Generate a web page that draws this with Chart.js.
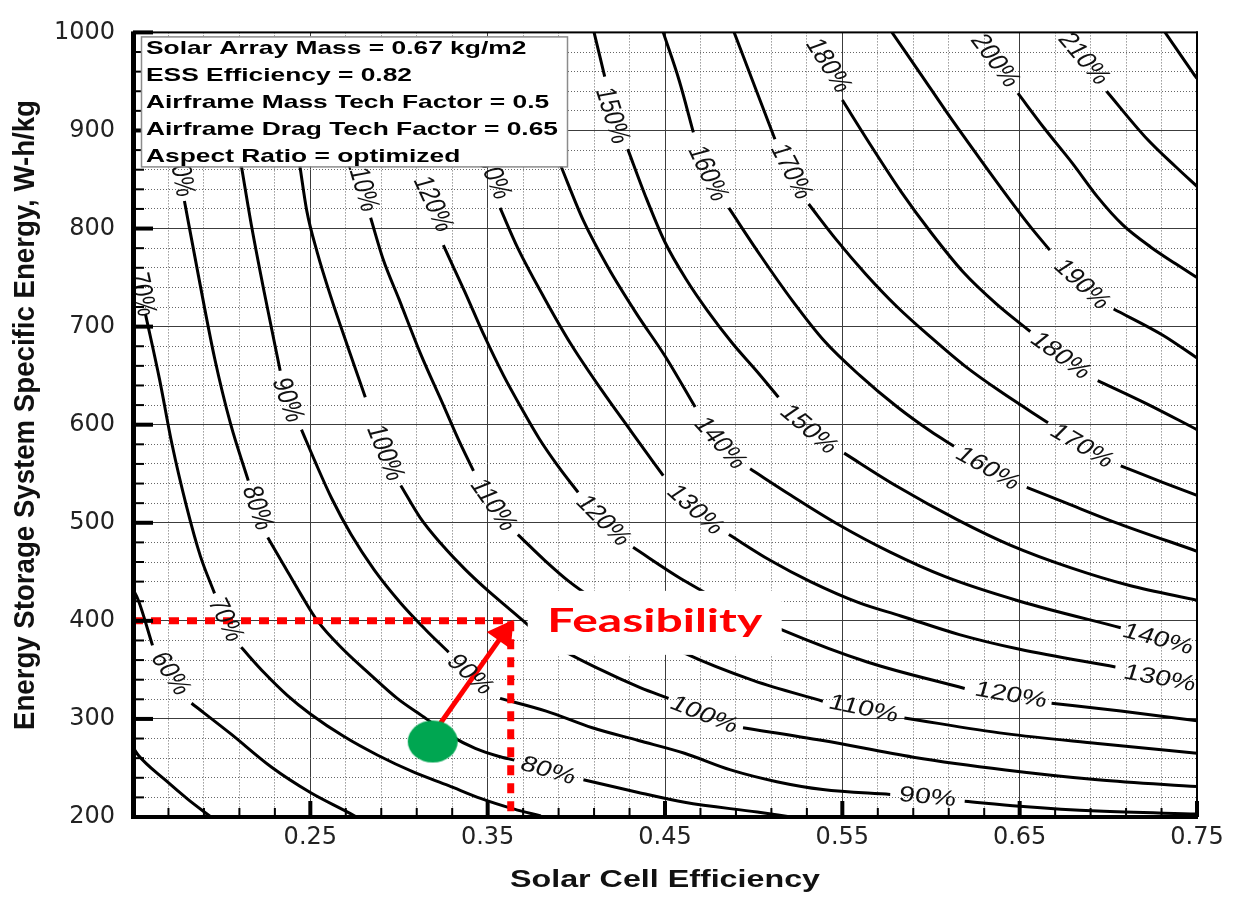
<!DOCTYPE html>
<html>
<head>
<meta charset="utf-8">
<script src="https://cdn.jsdelivr.net/npm/chart.js@4.4.1/dist/chart.umd.min.js"></script>
<style>
  html, body { margin: 0; padding: 0; background: #fff; }
  #wrap { width: 1236px; height: 897px; position: relative; }
</style>
</head>
<body>
<div id="wrap"><canvas id="chart"></canvas></div>
<script>
// axis ticks
const xTicks = [0.25, 0.35, 0.45, 0.55, 0.65, 0.75];
const yTicks = [200, 300, 400, 500, 600, 700, 800, 900, 1000];

// contour lines, [solar cell efficiency, specific energy]; null = gap left for a label
const c50 = [[0.150,271],[0.153,263],[0.168,238],[0.181,218],[0.194,200]];
const c60 = [[0.150,432],[0.153,421],[0.161,375],null,[0.183,316],[0.205,285],[0.228,251],[0.250,225],[0.271,205],[0.276,200]];
const c70 = [[0.157,713],[0.165,646],[0.172,580],[0.180,518],[0.188,466],[0.196,428],null,[0.211,373],[0.224,347],[0.237,324],[0.250,305],[0.269,282],[0.288,263],[0.308,246],[0.328,232],[0.346,219],[0.365,208],[0.380,201]];
const c80 = [[0.179,828],[0.187,751],[0.196,668],[0.205,601],[0.215,543],null,[0.226,485],[0.235,457],[0.245,426],[0.254,400],[0.269,370],[0.284,345],[0.299,321],[0.314,302],[0.329,283],[0.343,270],[0.356,262],[0.365,258],null,[0.404,238],[0.435,225],[0.461,215],[0.502,205],[0.521,200]];
const c90 = [[0.211,865],[0.217,801],[0.224,735],[0.233,655],null,[0.245,595],[0.253,561],[0.262,525],[0.273,488],[0.286,452],[0.301,418],[0.315,391],[0.328,368],null,[0.357,321],[0.383,308],[0.409,291],[0.435,278],[0.461,265],[0.487,248],[0.513,236],[0.539,228],[0.577,223],null,[0.619,216],[0.650,211],[0.694,206],[0.750,203]];
const c100 = [[0.244,865],[0.248,818],[0.254,775],[0.262,728],[0.271,680],[0.281,628],null,[0.301,538],[0.312,505],[0.324,478],[0.337,453],[0.350,431],[0.361,414],[0.372,397],[0.386,377],[0.414,350],[0.436,332],[0.452,321],null,[0.494,291],[0.539,278],[0.590,261],[0.642,248],[0.694,238],[0.750,231]];
const c110 = [[0.284,811],[0.291,769],[0.300,728],[0.312,673],[0.325,620],[0.334,583],[0.342,553],null,[0.367,488],[0.382,462],[0.396,440],[0.414,417],[0.436,391],[0.461,367],[0.500,339],[0.539,318],null,[0.585,301],[0.642,285],[0.694,275],[0.750,265]];
const c120 = [[0.325,783],[0.337,736],[0.348,691],[0.359,650],[0.369,617],[0.379,586],[0.390,557],[0.401,531],null,[0.432,475],[0.459,443],[0.487,415],[0.517,390],[0.564,358],[0.619,331],null,[0.668,316],[0.707,308],[0.750,298]];
const c130 = [[0.357,821],[0.367,780],[0.382,729],[0.397,682],[0.414,636],[0.431,593],[0.449,548],null,[0.486,488],[0.509,462],[0.532,440],[0.560,418],[0.583,405],[0.616,386],[0.650,371],[0.704,353]];
const c140 = [[0.391,865],[0.404,808],[0.418,760],[0.434,713],[0.450,670],[0.467,618],null,[0.498,555],[0.521,528],[0.547,499],[0.577,470],[0.608,445],[0.650,420],[0.707,393]];
const c150 = [[0.410,1000],[0.416,955],null,[0.429,881],[0.439,833],[0.450,786],[0.462,748],[0.474,716],[0.488,683],[0.502,654],[0.514,628],null,[0.551,571],[0.581,537],[0.615,503],[0.645,477],[0.679,454],[0.712,436],[0.750,421]];
const c160 = [[0.449,1000],[0.458,951],[0.466,898],null,[0.486,821],[0.504,772],[0.522,726],[0.540,685],[0.560,650],[0.581,618],[0.600,593],[0.613,578],null,[0.654,536],[0.675,521],[0.703,501],[0.750,471]];
const c170 = [[0.489,1000],[0.501,943],[0.512,891],null,[0.531,825],[0.546,790],[0.563,754],[0.581,720],[0.600,689],[0.619,660],[0.639,634],[0.666,602],null,[0.707,558],[0.731,541],[0.750,528]];
const c180 = [[0.550,931],[0.566,885],[0.583,838],[0.600,796],[0.618,756],[0.637,723],[0.656,695],null,[0.694,645],[0.722,621],[0.750,595]];
const c190 = [[0.578,1000],[0.594,958],[0.611,913],[0.628,870],[0.645,828],[0.656,802],[0.667,778],null,[0.703,718],[0.731,691],[0.750,668]];
const c200 = [[0.649,938],[0.664,902],[0.680,866],[0.694,832],[0.708,804],[0.724,781],[0.738,764],[0.750,750]];
const c210 = [[0.699,940],[0.722,891],[0.738,863],[0.750,843]];
const c220 = [[0.732,1000],[0.748,958],[0.750,953]];

// inline labels: [level %, x, y]
const contourLabels = [
  [60,0.171,346],
  [70,0.155,733],[70,0.202,401],
  [80,0.177,855],[80,0.220,515],[80,0.384,247],
  [90,0.237,625],[90,0.340,345],[90,0.598,220],
  [100,0.292,571],[100,0.472,304],
  [110,0.279,845],[110,0.353,518],[110,0.562,310],
  [120,0.319,825],[120,0.415,502],[120,0.645,324],
  [130,0.352,858],[130,0.467,513],[130,0.729,341],
  [140,0.481,581],[140,0.728,381],
  [150,0.420,915],[150,0.531,595],
  [160,0.474,856],[160,0.632,555],
  [170,0.521,858],[170,0.685,578],
  [180,0.542,966],[180,0.673,670],
  [190,0.685,743],
  [200,0.636,971],
  [210,0.686,973]
];

// current design point and the feasibility target
const designPoint = [0.319, 277];
const feasPoint = [0.363, 400];
const arrowFrom = [0.3235, 296];
const arrowTo = [0.359, 387];

const infoLines = [
  'Solar Array Mass = 0.67 kg/m2',
  'ESS Efficiency = 0.82',
  'Airframe Mass Tech Factor = 0.5',
  'Airframe Drag Tech Factor = 0.65',
  'Aspect Ratio = optimized'
];
const xTitle = 'Solar Cell Efficiency';
const yTitle = 'Energy Storage System Specific Energy, W-h/kg';

// minor grid every 0.02 / 20
const xMinor = [];
for (let k = 1; k < 30; k++) if (k % 5) xMinor.push(Math.round((0.15 + 0.02 * k) * 100) / 100);
const yMinor = [];
for (let k = 1; k < 40; k++) if (k % 5) yMinor.push(200 + 20 * k);

const levels = {50:c50,60:c60,70:c70,80:c80,90:c90,100:c100,110:c110,120:c120,130:c130,
  140:c140,150:c150,160:c160,170:c170,180:c180,190:c190,200:c200,210:c210,220:c220};

function toXY(pts) {
  let lastX = null;
  return pts.map(p => {
    if (!p) return {x: lastX, y: null};
    lastX = p[0];
    return {x: p[0], y: p[1]};
  });
}

// text drawn as if the picture were stretched sideways by sx
function stretchText(ctx, txt, x, y, deg, sx) {
  const a = deg * Math.PI / 180;
  ctx.save();
  ctx.translate(x, y);
  ctx.scale(sx, 1);
  ctx.rotate(Math.atan2(Math.sin(a), Math.cos(a) / sx));
  ctx.fillText(txt, 0, 0);
  ctx.restore();
}

function fitText(ctx, txt, cx, cy, width) {
  const w = ctx.measureText(txt).width;
  ctx.save();
  ctx.translate(cx, cy);
  ctx.scale(width / w, 1);
  ctx.textAlign = 'center';
  ctx.textBaseline = 'middle';
  ctx.fillText(txt, 0, 0);
  ctx.restore();
}

// label direction from the two nearest points of its own contour
function labelAngle(pts, xs, ys, px, py) {
  const pp = pts.filter(Boolean).map(p => [xs.getPixelForValue(p[0]), ys.getPixelForValue(p[1])]);
  pp.sort((a, b) => Math.hypot(a[0] - px, a[1] - py) - Math.hypot(b[0] - px, b[1] - py));
  let a = pp[0], b = pp[1];
  if (a[0] > b[0]) [a, b] = [b, a];
  return Math.atan2(b[1] - a[1], b[0] - a[0]) * 180 / Math.PI;
}

// slightly wide green marker, like the source
const dot = document.createElement('canvas');
dot.width = 52; dot.height = 44;
(function () {
  const g = dot.getContext('2d');
  g.fillStyle = '#00a651';
  g.beginPath();
  g.ellipse(26, 22, 25, 21, 0, 0, Math.PI * 2);
  g.fill();
})();

const overlay = {
  id: 'overlay',
  afterDatasetsDraw(chart) {
    const {ctx, chartArea: ca, scales: {x, y}} = chart;
    const L = ca.left, R = ca.right, T = ca.top, B = ca.bottom;

    // contour labels
    ctx.save();
    ctx.beginPath(); ctx.rect(L, T, R - L, B - T); ctx.clip();
    ctx.fillStyle = '#111';
    ctx.font = '22px "Liberation Sans", Arial, sans-serif';
    ctx.textAlign = 'center';
    ctx.textBaseline = 'middle';
    contourLabels.forEach(([lvl, lx, ly]) => {
      const px = x.getPixelForValue(lx), py = y.getPixelForValue(ly);
      stretchText(ctx, lvl + '%', px, py, labelAngle(levels[lvl], x, y, px, py), 1.3);
    });
    ctx.restore();

    // feasibility caption
    const fx = x.getPixelForValue(feasPoint[0]), fy = y.getPixelForValue(feasPoint[1]);
    ctx.fillStyle = '#fff';
    ctx.fillRect(fx + 17, fy - 30, 254, 64);
    ctx.fillStyle = '#ff0000';
    ctx.font = 'bold 33px Lato, "Open Sans", sans-serif';
    fitText(ctx, 'Feasibility', fx + 144, fy + 1, 215);

    // frame with inward ticks
    ctx.fillStyle = '#000';
    ctx.fillRect(L - 2, T - 1, 5, B - T + 3);
    ctx.fillRect(L - 2, B - 2, R - L + 3, 4);
    ctx.fillRect(L, T - 1, R - L + 1, 2);
    ctx.fillRect(R - 1, T - 1, 2, B - T + 2);
    yTicks.forEach(v => { const py = y.getPixelForValue(v); ctx.fillRect(L, py - 2, 20, 4); });
    yMinor.forEach(v => { const py = y.getPixelForValue(v); ctx.fillRect(L, py - 1, 11, 2); });
    xTicks.forEach(v => { const px = x.getPixelForValue(v); ctx.fillRect(px - 2, B - 16, 4, 16); });
    xMinor.forEach(v => { const px = x.getPixelForValue(v); ctx.fillRect(px - 1, B - 9, 2, 9); });

    // parameter box
    const bx = L + 8, by = T + 4, bw = 426, bh = 130;
    ctx.fillStyle = '#fff';
    ctx.fillRect(bx, by, bw, bh);
    ctx.strokeStyle = '#8c8c8c';
    ctx.lineWidth = 1.5;
    ctx.strokeRect(bx + 0.5, by + 0.5, bw, bh);
    ctx.fillStyle = '#000';
    ctx.font = 'bold 19px "Liberation Sans", Arial, sans-serif';
    ctx.textAlign = 'left';
    ctx.textBaseline = 'alphabetic';
    const sx = 412 / ctx.measureText(infoLines[3]).width;
    infoLines.forEach((t, i) => {
      ctx.save();
      ctx.translate(bx + 5, by + 18 + i * 27);
      ctx.scale(sx, 1);
      ctx.fillText(t, 0, 0);
      ctx.restore();
    });
  },
  afterDraw(chart) {
    const {ctx, chartArea: ca} = chart;
    ctx.save();
    ctx.fillStyle = '#111';
    ctx.font = 'bold 24px "Liberation Sans", Arial, sans-serif';
    fitText(ctx, xTitle, (ca.left + ca.right) / 2, 880, 310);
    ctx.translate(26, 415);
    ctx.rotate(-Math.PI / 2);
    ctx.font = 'bold 23px "Liberation Sans", Arial, sans-serif';
    const w = ctx.measureText(yTitle).width;
    ctx.scale(630 / w, 1.3);
    ctx.textAlign = 'center';
    ctx.textBaseline = 'middle';
    ctx.fillText(yTitle, 0, 0);
    ctx.restore();
  }
};

const contourSets = Object.keys(levels).map(k => ({
  label: k + '%',
  data: toXY(levels[k]),
  borderColor: '#000',
  borderWidth: 3,
  pointRadius: 0,
  cubicInterpolationMode: 'monotone',
  order: 2
}));

const tickFont = {family: '"DejaVu Sans", sans-serif', size: 24};

new Chart(document.getElementById('chart'), {
  type: 'line',
  data: {
    datasets: [
      {
        label: 'design point',
        data: [{x: designPoint[0], y: designPoint[1]}],
        showLine: false,
        pointStyle: dot,
        pointRadius: 22,
        order: 0
      },
      {
        label: 'arrow',
        data: toXY([arrowFrom, arrowTo]),
        borderColor: '#ff0000',
        borderWidth: 5,
        tension: 0,
        pointRadius: [0, 12],
        pointStyle: 'triangle',
        pointBackgroundColor: '#ff0000',
        pointBorderColor: '#ff0000',
        pointRotation: (c) => {
          const sx = c.chart.scales.x, sy = c.chart.scales.y;
          const dx = sx.getPixelForValue(arrowTo[0]) - sx.getPixelForValue(arrowFrom[0]);
          const dy = sy.getPixelForValue(arrowTo[1]) - sy.getPixelForValue(arrowFrom[1]);
          return Math.atan2(dx, -dy) * 180 / Math.PI;
        },
        order: 0
      },
      {
        label: 'feasibility',
        data: toXY([[0.15, feasPoint[1]], feasPoint, [feasPoint[0], 200]]),
        borderColor: '#ff0000',
        borderWidth: 7,
        borderDash: [10, 8],
        tension: 0,
        pointRadius: 0,
        order: 1
      },
      ...contourSets
    ]
  },
  options: {
    responsive: true,
    maintainAspectRatio: false,
    animation: false,
    events: [],
    layout: {padding: {left: 0, right: 39, top: 18, bottom: 0}},
    plugins: {legend: {display: false}, tooltip: {enabled: false}},
    scales: {
      x: {
        type: 'linear', position: 'bottom', min: 0.15, max: 0.75,
        afterBuildTicks: s => { s.ticks = xTicks.map(v => ({value: v})); },
        afterFit: s => { s.height = 80; },
        grid: {color: '#3c3c3c', lineWidth: 1, drawTicks: false},
        border: {display: false},
        ticks: {autoSkip: false, maxRotation: 0, padding: 6, color: '#222', font: tickFont,
          callback: v => v.toFixed(2)}
      },
      x2: {
        type: 'linear', position: 'bottom', min: 0.15, max: 0.75,
        afterBuildTicks: s => { s.ticks = xMinor.map(v => ({value: v})); },
        afterFit: s => { s.height = 0; },
        grid: {color: '#666', lineWidth: 1, drawTicks: false},
        border: {display: false, dash: [1, 2]},
        ticks: {display: false}
      },
      y: {
        type: 'linear', position: 'left', min: 200, max: 1000,
        afterBuildTicks: s => { s.ticks = yTicks.map(v => ({value: v})); },
        afterFit: s => { s.width = 133; },
        grid: {color: '#3c3c3c', lineWidth: 1, drawTicks: false},
        border: {display: false},
        ticks: {autoSkip: false, padding: 18, color: '#222', font: tickFont,
          callback: v => String(v)}
      },
      y2: {
        type: 'linear', position: 'left', min: 200, max: 1000,
        afterBuildTicks: s => { s.ticks = yMinor.map(v => ({value: v})); },
        afterFit: s => { s.width = 0; },
        grid: {color: '#666', lineWidth: 1, drawTicks: false},
        border: {display: false, dash: [1, 2]},
        ticks: {display: false}
      }
    }
  },
  plugins: [overlay]
});
</script>
</body>
</html>
